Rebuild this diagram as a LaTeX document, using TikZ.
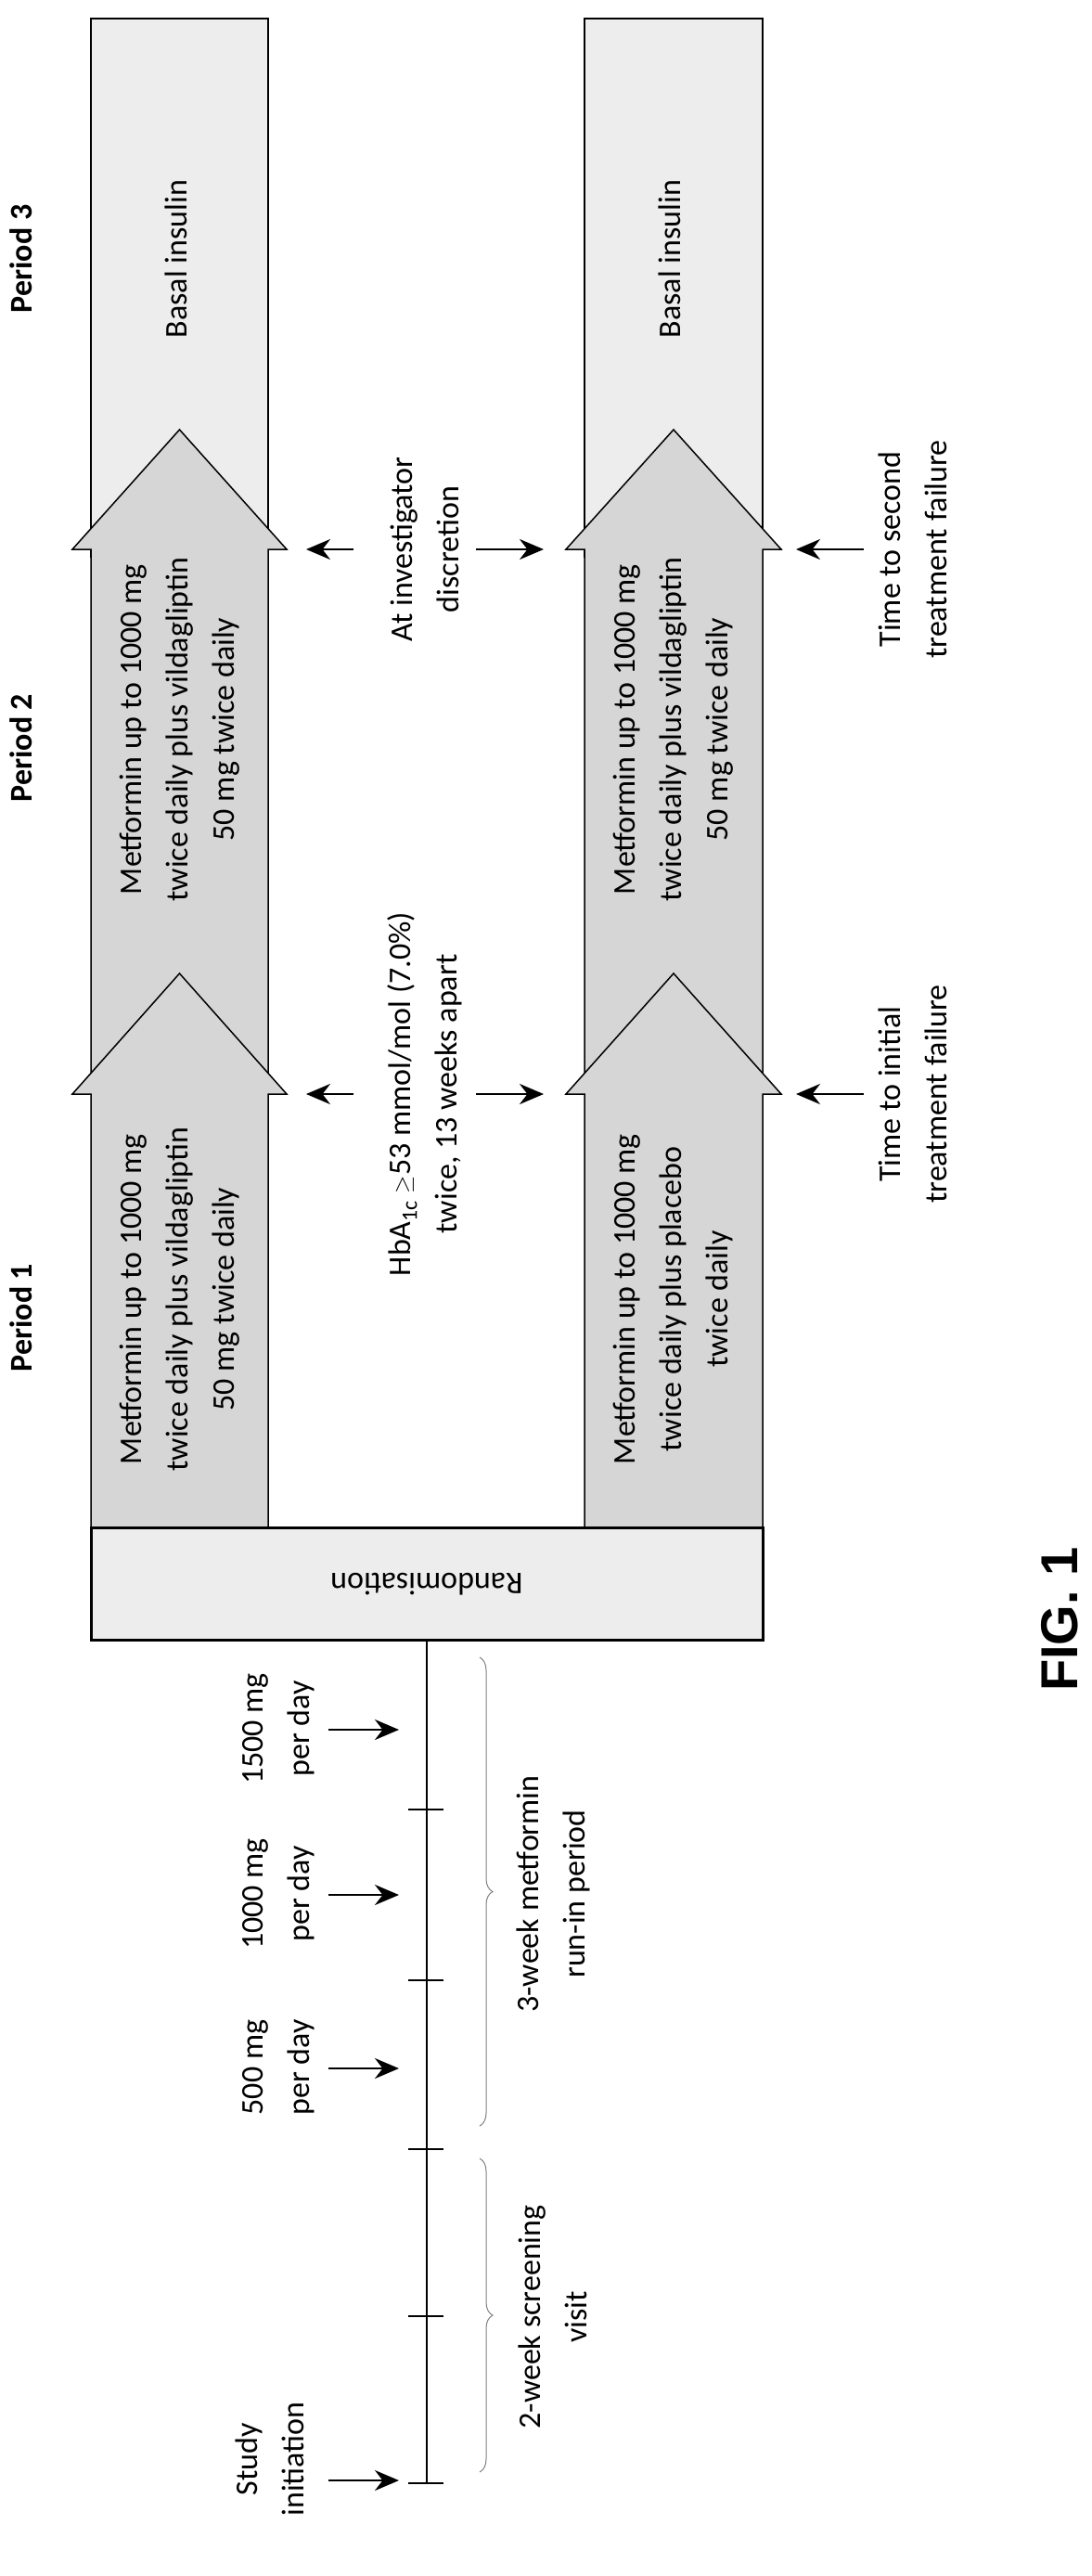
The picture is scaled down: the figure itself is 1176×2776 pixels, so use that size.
\documentclass[tikz,border=0pt]{standalone}
\usepackage{fontspec}
\setmainfont{Carlito}
\setsansfont{Liberation Sans}
\usetikzlibrary{arrows.meta,decorations.pathreplacing,positioning}

\begin{document}
\begin{tikzpicture}[x=1pt,y=-1pt,>={Stealth[length=26pt,width=22pt]}]
\tikzstyle{txt} = [rotate=90, align=center, font=\fontsize{34}{50}\selectfont]
\tikzstyle{period} = [rotate=90, font=\bfseries\fontsize{34}{40}\selectfont]
\tikzstyle{band} = [draw, line width=2pt, fill=gray!14]
\tikzstyle{head} = [draw, line width=1.5pt, fill=gray!32]
\tikzstyle{pin} = [->, line width=2.5pt]

\useasboundingbox (0,0) rectangle (1176,2776);

% treatment bands
\foreach \l/\r in {98/289, 630/822} {
  \pgfmathsetmacro{\m}{(\l+\r)/2}
  \draw[band] (\l,20) rectangle (\r,600);
  \draw[head] (\l,1179) -- (\l,592) -- (\l-20,592) -- (\m,463) -- (\r+20,592) -- (\r,592) -- (\r,1179);
  \draw[head] (\l,1646) -- (\l,1179) -- (\l-20,1179) -- (\m,1049) -- (\r+20,1179) -- (\r,1179) -- (\r,1646);
}

\node [period] (p1) at (23,1420) {Period 1};
\node [period] (p2) at (23,806) {Period 2};
\node [period] (p3) at (23,279) {Period 3};

\node [txt] (ins1) at (190,279) {Basal insulin};
\node [txt] (ins2) at (722,279) {Basal insulin};
\node [txt] (vil2) at (194,786) {Metformin up to 1000 mg\\twice daily plus vildagliptin\\50 mg twice daily};
\node [txt] (vil1) at (194,1400) {Metformin up to 1000 mg\\twice daily plus vildagliptin\\50 mg twice daily};
\node [txt] (vil3) at (726,786) {Metformin up to 1000 mg\\twice daily plus vildagliptin\\50 mg twice daily};
\node [txt] (plac) at (726,1400) {Metformin up to 1000 mg\\twice daily plus placebo\\twice daily};

% criteria between the bands
\node [txt] (hba) at (458,1179) {HbA\textsubscript{1c} $\geq$53 mmol/mol (7.0\%)\\twice, 13 weeks apart};
\node [txt] (disc) at (458,592) {At investigator\\discretion};
\node [txt] (fail1) at (984,1179) {Time to initial\\treatment failure};
\node [txt] (fail2) at (984,592) {Time to second\\treatment failure};
\foreach \y/\n in {1179/a, 592/b} {
  \coordinate (s\n) at (381,\y);
  \coordinate (up\n) at (330,\y);
  \coordinate (e\n) at (513,\y);
  \coordinate (dn\n) at (586,\y);
  \coordinate (f\n) at (931,\y);
  \coordinate (fl\n) at (858,\y);
  \draw[pin] (s\n) -- (up\n);
  \draw[pin] (e\n) -- (dn\n);
  \draw[pin] (f\n) -- (fl\n);
}

% randomisation and run-in
\node [draw, line width=3pt, fill=gray!14, minimum width=724pt, minimum height=121pt,
  inner sep=0pt] (rand) at (460,1707) {};
\node [rotate=180, font=\fontsize{34}{40}\selectfont] (randtxt) at (rand.center) {Randomisation};

\coordinate (t0) at (460,2676);
\draw[line width=2.5pt] (rand.south) -- (t0);
\foreach \y in {1950,2134,2316,2496,2676}
  \draw[line width=2.5pt] (440,\y) -- (478,\y);

\node [txt] (d1500) at (300,1863) {1500 mg\\per day};
\node [txt] (d1000) at (300,2041) {1000 mg\\per day};
\node [txt] (d500) at (300,2228) {500 mg\\per day};
\node [txt] (start) at (291,2650) {Study\\initiation};
\foreach \n/\y in {d1500/1864, d1000/2042, d500/2229, start/2673}
  \draw[pin] (354,\y) -- (430,\y);

\draw[decorate, decoration={brace, amplitude=14pt}, line width=1pt, gray] (517,1786) -- (517,2291);
\draw[decorate, decoration={brace, amplitude=14pt}, line width=1pt, gray] (517,2326) -- (517,2664);
\node [txt] (runin) at (596,2041) {3-week metformin\\run-in period};
\node [txt] (screen) at (596,2497) {2-week screening\\visit};

\node [rotate=90, font=\sffamily\bfseries\fontsize{56}{60}\selectfont] (fig) at (1142,1745) {FIG. 1};
\end{tikzpicture}
\end{document}
